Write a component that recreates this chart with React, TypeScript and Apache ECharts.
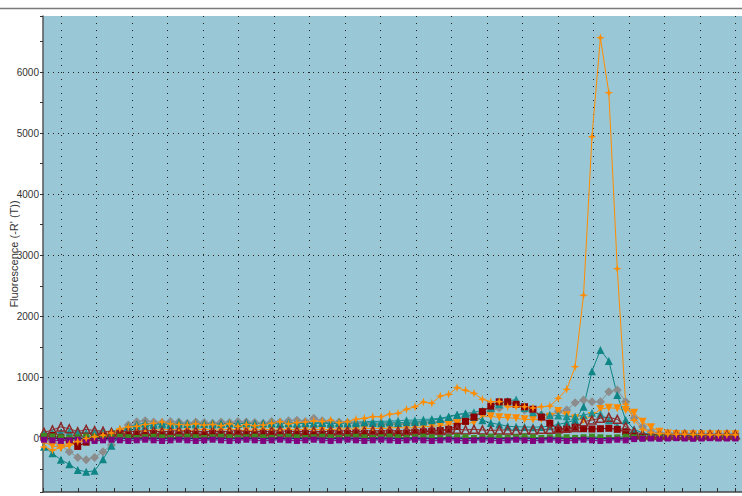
import React, { useEffect, useRef } from "react";
import * as echarts from "echarts";

// reading index (x) and fluorescence values (-R'(T))
const readings: number[] = Array.from({ length: 83 }, (_, i) => i);

const orangeStar = [
  -140, -190, -150, -90, -50, 0, 30, 55, 90, 160,
  190, 200, 230, 250, 270, 240, 230, 220, 240, 220,
  230, 210, 240, 200, 230, 210, 220, 250, 275, 240,
  260, 270, 287, 280, 300, 260, 275, 315, 330, 357,
  357, 396, 412, 478, 520, 598, 576, 696, 723, 832,
  789, 740, 642, 602, 603, 520, 520, 520, 500, 520,
  530, 658, 805, 1175, 2345, 4940, 6560, 5660, 2780, 560,
  300, 150, 100, 80, 75, 70, 70, 65, 65, 60,
  60, 60, 60,
];

const tealA = [
  -135, -240, -350, -420, -515, -545, -530, -340, -120, 60,
  200, 230, 250, 240, 250, 240, 260, 240, 250, 240,
  250, 240, 250, 240, 260, 240, 250, 245, 240, 250,
  240, 250, 245, 255, 240, 250, 245, 250, 260, 255,
  250, 260, 255, 265, 270, 280, 300, 320, 350, 390,
  410, 350, 300, 254, 230, 200, 193, 190, 185, 190,
  200, 230, 260, 300, 520, 1100, 1450, 1270, 712, 303,
  150, 90, 70, 65, 60, 60, 60, 55, 55, 55,
  55, 55, 55,
];

const tealB = [
  80, 90, 100, 110, 100, 90, 100, 110, 120, 150,
  180, 200, 210, 220, 230, 220, 230, 240, 230, 240,
  230, 240, 250, 240, 250, 245, 250, 260, 250, 260,
  255, 260, 250, 265, 260, 270, 265, 270, 275, 280,
  280, 285, 290, 300, 300, 310, 320, 330, 360, 390,
  410, 430, 460, 500, 560, 610, 640, 500, 430, 400,
  385, 375, 365, 360, 380, 420, 400, 300, 200, 120,
  80, 60, 55, 55, 55, 50, 50, 50, 50, 50,
  50, 50, 50,
];

const grayDiamond = [
  -30, -60, -110, -215, -310, -350, -310, -215, -105, 50,
  220, 275, 290, 270, 260, 280, 270, 250, 270, 260,
  250, 270, 260, 280, 270, 260, 250, 280, 270, 290,
  300, 280, 330, 290, 280, 270, 260, 250, 240, 230,
  230, 240, 230, 240, 250, 260, 260, 270, 280, 300,
  350, 400, 420, 450, 500, 600, 560, 466, 420, 385,
  368, 440, 466, 586, 630, 603, 603, 766, 794, 603,
  330, 193, 110, 90, 90, 85, 85, 80, 80, 80,
  80, 80, 80,
];

const orangeTri = [
  -60, -120, -150, -120, -80, -30, 0, 30, 60, 90,
  110, 120, 130, 140, 140, 150, 140, 130, 140, 150,
  140, 140, 150, 140, 130, 140, 150, 140, 140, 150,
  140, 150, 150, 140, 150, 150, 160, 150, 160, 170,
  160, 170, 180, 170, 180, 190, 200, 210, 230, 250,
  250, 260, 368, 360, 347, 340, 330, 314, 310, 320,
  357, 450, 380, 330, 303, 368, 483, 504, 494, 466,
  423, 275, 183, 111, 80, 75, 70, 70, 70, 70,
  70, 70, 70,
];

const darkRedSquare = [
  30, 50, 20, -30, -130, -60, 10, 40, 60, 80,
  60, 70, 50, 80, 60, 70, 60, 80, 70, 60,
  80, 70, 60, 80, 70, 60, 80, 70, 60, 80,
  70, 80, 60, 70, 80, 70, 80, 90, 80, 70,
  80, 90, 80, 90, 100, 110, 120, 130, 150, 200,
  280, 350, 440, 530, 600, 600, 560, 520, 480, 350,
  250, 140, 150, 183, 160, 155, 160, 167, 150, 110,
  40, 20, 20, 20, 20, 20, 20, 20, 20, 20,
  20, 20, 20,
];

const brownHollow = [
  100, 140, 190, 160, 110, 150, 130, 120, 100, 110,
  120, 110, 130, 120, 110, 120, 130, 110, 120, 110,
  120, 110, 120, 130, 110, 120, 110, 120, 130, 110,
  120, 110, 120, 110, 120, 130, 120, 110, 120, 130,
  120, 130, 120, 130, 140, 130, 140, 130, 140, 150,
  140, 150, 140, 130, 140, 140, 130, 140, 140, 150,
  150, 160, 170, 180, 275, 303, 330, 347, 314, 193,
  111, 70, 60, 60, 60, 60, 60, 60, 60, 60,
  60, 60, 60,
];

const greenSquare = [
  40, 30, 20, 10, 20, 30, 20, 10, 20, 30,
  20, 10, 20, 30, 20, 10, 20, 30, 20, 10,
  20, 30, 20, 10, 20, 30, 20, 10, 20, 30,
  20, 10, 20, 30, 20, 10, 20, 30, 20, 10,
  20, 30, 20, 10, 20, 30, 20, 10, 20, 30,
  20, 10, 20, 30, 20, 10, 20, 30, 20, 10,
  20, 30, 20, 10, 20, 30, 20, 10, 20, 30,
  20, 10, 20, 30, 20, 10, 20, 30, 20, 10,
  20, 30, 20,
];

const purpleSquare = [
  -20, -30, -40, -30, -20, -30, -40, -30, -20, -30,
  -40, -30, -20, -30, -40, -30, -20, -30, -40, -30,
  -20, -30, -40, -30, -20, -30, -40, -30, -20, -30,
  -40, -30, -20, -30, -40, -30, -20, -30, -40, -30,
  -20, -30, -40, -30, -20, -30, -40, -30, -20, -30,
  -40, -30, -20, -30, -40, -30, -20, -30, -40, -30,
  -20, -30, -40, -30, -20, -30, -40, -30, -20, -30,
  -10, -5, 0, -5, 0, 5, 0, -5, 0, 5,
  0, 0, 0,
];

const navyLine = [
  0, 5, 0, -5, 0, 5, 0, -5, 0, 5,
  0, -5, 0, 5, 0, -5, 0, 5, 0, -5,
  0, 5, 0, -5, 0, 5, 0, -5, 0, 5,
  0, -5, 0, 5, 0, -5, 0, 5, 0, -5,
  0, 5, 0, -5, 0, 5, 0, -5, 0, 5,
  0, -5, 0, 5, 0, -5, 0, 5, 0, -5,
  0, 5, 0, -5, 0, 5, 0, -5, 0, 5,
  0, -5, 0, 5, 0, -5, 0, 5, 0, -5,
  0, 5, 0,
];

const yTickLabels = [0, 1000, 2000, 3000, 4000, 5000, 6000];

const STAR = "path://M0,-6L1.4,-1.4L6,0L1.4,1.4L0,6L-1.4,1.4L-6,0L-1.4,-1.4Z";

const pair = (vals: number[]) => readings.map((x, i) => [x, vals[i]]);

export default function App() {
  const ref = useRef<HTMLDivElement>(null);
  useEffect(() => {
    if (!ref.current) return;
    const chart = echarts.init(ref.current, undefined, { renderer: "svg" });
    const mk = (
      name: string,
      vals: number[],
      color: string,
      symbol: string,
      size: number,
      extra: any = {}
    ) => ({
      name,
      type: "line",
      xAxisIndex: 0,
      yAxisIndex: 0,
      data: pair(vals),
      symbol,
      symbolSize: size,
      showSymbol: symbol !== "none",
      lineStyle: { color, width: 1 },
      itemStyle: { color },
      ...extra,
    });
    chart.setOption({
      animation: false,
      backgroundColor: "#ffffff",
      grid: {
        left: 43,
        top: 16,
        right: -11,
        bottom: 4,
        show: true,
        backgroundColor: "#9ac7d5",
        borderWidth: 0,
        outerBoundsMode: "none",
        containLabel: false,
      },
      graphic: [
        {
          type: "line",
          shape: { x1: 0, y1: 8.5, x2: 742, y2: 8.5 },
          style: { stroke: "#7a7a7a", lineWidth: 1.5 },
        },
      ],
      xAxis: [
        {
          type: "value",
          min: -0.12,
          max: 84.1,
          show: false,
          axisLine: { onZero: false },
        },
        {
          type: "value",
          min: 0,
          max: 20,
          interval: 1,
          position: "bottom",
          axisLine: { show: true, onZero: false, lineStyle: { color: "#444", width: 1.5 } },
          axisTick: { show: true, inside: true, length: 4, lineStyle: { color: "#333" } },
          minorTick: { show: true, splitNumber: 2, length: 4, lineStyle: { color: "#333" } },
          axisLabel: { show: false },
          splitLine: { show: false },
          minorSplitLine: {
            show: true,
            lineStyle: { color: "#222", type: [1, 6], width: 1 },
          },
        },
      ],
      yAxis: [
        {
          type: "value",
          min: -876,
          max: 6917,
          minInterval: 1000,
          maxInterval: 1000,
          splitNumber: 7,
          name: "Fluorescence (-R' (T))",
          nameLocation: "middle",
          nameGap: 24,
          nameMoveOverlap: false,
          nameTextStyle: { fontSize: 11, color: "#333", fontFamily: "Liberation Sans" },
          axisLine: { show: true, onZero: false, lineStyle: { color: "#555", width: 1.5 } },
          axisTick: { show: false },
          axisLabel: {
            fontSize: 10,
            color: "#333",
            margin: 4,
            fontFamily: "'Liberation Sans Narrow', 'Liberation Sans', sans-serif",
            formatter: (v: number) => (yTickLabels.includes(v) ? String(v) : ""),
          },
          splitLine: {
            show: true,
            showMinLine: false,
            showMaxLine: false,
            lineStyle: { color: "#222", type: [1, 4], width: 1 },
          },
        },
        {
          type: "value",
          min: -876,
          max: 6917,
          minInterval: 500,
          maxInterval: 500,
          position: "left",
          axisLine: { show: false, onZero: false },
          axisTick: { show: true, length: 3, lineStyle: { color: "#333" } },
          axisLabel: { show: false },
          splitLine: { show: false },
        },
      ],
      series: [
        mk("gray", grayDiamond, "#8c8c8c", "diamond", 9),
        mk("orangeTri", orangeTri, "#ff8c00", "triangle", 8, { symbolRotate: 180 }),
        mk("tealB", tealB, "#1b9090", "triangle", 8),
        mk("tealA", tealA, "#0f8585", "triangle", 8),
        mk("darkRed", darkRedSquare, "#8b0000", "rect", 7),
        mk("brown", brownHollow, "#8b2a2a", "triangle", 8, {
          itemStyle: { color: "rgba(0,0,0,0)", borderColor: "#8b2a2a", borderWidth: 1.5 },
        }),
        mk("green", greenSquare, "#3d8b22", "rect", 6),
        mk("purple", purpleSquare, "#800080", "rect", 6),
        mk("navy", navyLine, "#1a1a80", "none", 0, { lineStyle: { color: "#1a1a80", width: 1.5 } }),
        mk("orangeStar", orangeStar, "#ff8c00", STAR, 9),
      ],
    });
    return () => chart.dispose();
  }, []);
  return (
    <div
      ref={ref}
      style={{ position: "fixed", left: 0, top: 0, width: 742, height: 496, overflow: "hidden" }}
    />
  );
}
